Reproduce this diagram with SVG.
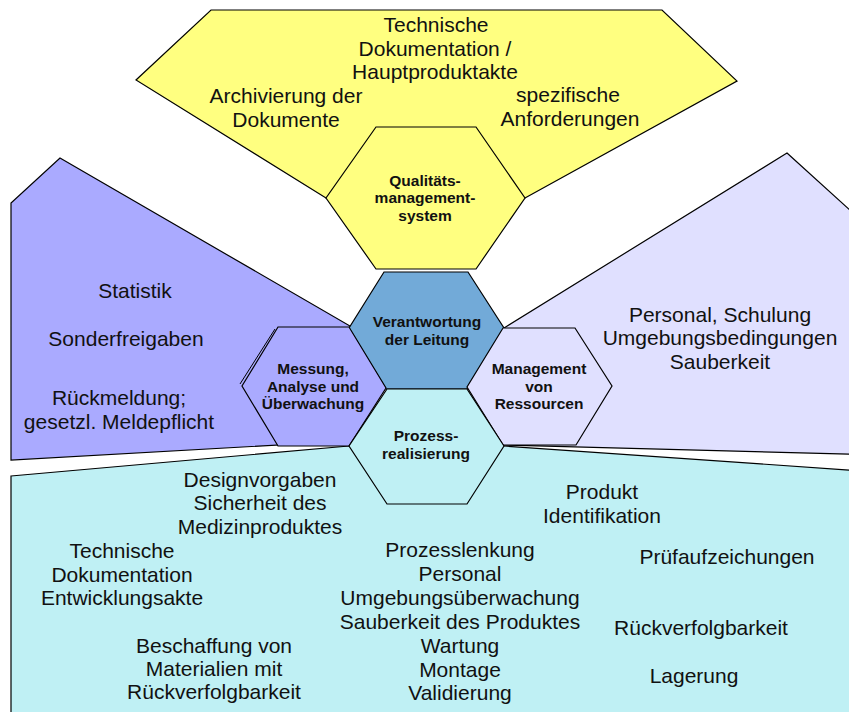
<svg xmlns="http://www.w3.org/2000/svg" width="849" height="712" viewBox="0 0 849 712">
  <style>
    .area { stroke: #000; stroke-width: 1.2; stroke-linejoin: miter; }
    .hexa { stroke: #000; stroke-width: 1.2; stroke-linejoin: miter; }
    .yellow { fill: #ffff80; }
    .violet { fill: #aaaaff; }
    .lilac { fill: #e0e0ff; }
    .cyan { fill: #bff0f4; }
    .blue { fill: #72aad8; }
    text { font-family: "Liberation Sans", Arial, sans-serif; fill: #111; text-anchor: middle; }
    .t { font-size: 21px; }
    .h { font-size: 15.5px; font-weight: bold; }
  </style>

  <rect width="849" height="712" fill="#ffffff"/>

  <!-- outer fields -->
  <g id="field-qms">
    <polygon class="area yellow" points="211,10 662,10 737,81 525,198 426,240 326,198 136,80"/>
    <text class="t" x="436" y="31.5">Technische</text>
    <text class="t" x="435" y="55.5">Dokumentation /</text>
    <text class="t" x="435" y="79">Hauptproduktakte</text>
    <text class="t" x="286" y="103">Archivierung der</text>
    <text class="t" x="286" y="127">Dokumente</text>
    <text class="t" x="568" y="101.5">spezifische</text>
    <text class="t" x="570" y="126">Anforderungen</text>
  </g>

  <g id="field-messung">
    <polygon class="area violet" points="60,158 350,326 350,441 11,460 11,203"/>
    <text class="t" x="135" y="298">Statistik</text>
    <text class="t" x="126" y="345.5">Sonderfreigaben</text>
    <text class="t" x="119" y="405">Rückmeldung;</text>
    <text class="t" x="119" y="428.5">gesetzl. Meldepflicht</text>
  </g>

  <g id="field-ressourcen">
    <polygon class="area lilac" points="787,153 862,221 862,454.5 504,445 504,328"/>
    <text class="t" x="720" y="321.5">Personal, Schulung</text>
    <text class="t" x="720" y="345">Umgebungsbedingungen</text>
    <text class="t" x="720" y="369">Sauberkeit</text>
  </g>

  <g id="field-prozess">
    <polygon class="area cyan" points="11,476 349,446 504,446 862,471 862,720 11,720"/>
    <text class="t" x="260" y="486.5">Designvorgaben</text>
    <text class="t" x="260" y="510">Sicherheit des</text>
    <text class="t" x="260" y="534">Medizinproduktes</text>
    <text class="t" x="122" y="557.5">Technische</text>
    <text class="t" x="122" y="581.5">Dokumentation</text>
    <text class="t" x="122" y="605">Entwicklungsakte</text>
    <text class="t" x="214" y="652.5">Beschaffung von</text>
    <text class="t" x="214" y="676">Materialien mit</text>
    <text class="t" x="214" y="699">Rückverfolgbarkeit</text>
    <text class="t" x="602" y="499">Produkt</text>
    <text class="t" x="602" y="522.5">Identifikation</text>
    <text class="t" x="460" y="556.5">Prozesslenkung</text>
    <text class="t" x="460" y="580.5">Personal</text>
    <text class="t" x="460" y="605">Umgebungsüberwachung</text>
    <text class="t" x="460" y="628.5">Sauberkeit des Produktes</text>
    <text class="t" x="460" y="652.5">Wartung</text>
    <text class="t" x="460" y="676.5">Montage</text>
    <text class="t" x="460" y="700">Validierung</text>
    <text class="t" x="727" y="564">Prüfaufzeichungen</text>
    <text class="t" x="701" y="635">Rückverfolgbarkeit</text>
    <text class="t" x="694" y="682.5">Lagerung</text>
  </g>

  <!-- hexagons -->
  <g id="hex-qms">
    <polygon class="hexa yellow" points="376,127 476,127 525,198 476,269 376,269 326,198"/>
    <text class="h" x="425" y="185.5">Qualitäts-</text>
    <text class="h" x="425" y="203">management-</text>
    <text class="h" x="425" y="220.5">system</text>
  </g>

  <g id="hex-leitung">
    <polygon class="hexa blue" points="384,272 468,272 504,328 467,389 386,389 349,328"/>
    <text class="h" x="427" y="327">Verantwortung</text>
    <text class="h" x="427" y="345">der Leitung</text>
  </g>

  <g id="hex-messung">
    <polyline fill="none" stroke="#000" stroke-width="1" points="275,329 240,384"/>
    <polygon class="hexa violet" points="278,327 349,327 386,388 349,446 278,446 242,386"/>
    <text class="h" x="313" y="374">Messung,</text>
    <text class="h" x="313" y="391.5">Analyse und</text>
    <text class="h" x="313" y="409">Überwachung</text>
  </g>

  <g id="hex-ressourcen">
    <polygon class="hexa lilac" points="503,328 575,328 612,386 576,445 503,445 467,387"/>
    <text class="h" x="539" y="374">Management</text>
    <text class="h" x="539" y="391.5">von</text>
    <text class="h" x="539" y="409">Ressourcen</text>
  </g>

  <g id="hex-prozess">
    <polygon class="hexa cyan" points="387,389 467,389 504,446 467,504 387,504 349,446"/>
    <text class="h" x="426" y="440.5">Prozess-</text>
    <text class="h" x="426" y="459">realisierung</text>
  </g>
</svg>
